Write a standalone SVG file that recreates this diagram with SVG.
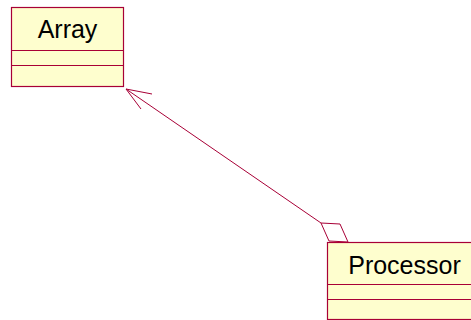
<svg xmlns="http://www.w3.org/2000/svg" width="471" height="320" viewBox="0 0 471 320">
<style>
.box{fill:#FEFECE;stroke:#A80036;stroke-width:1.2}
.sep{stroke:#A80036;stroke-width:1}
.lbl{font-family:"Liberation Sans",Arial,sans-serif;font-size:25px;fill:#000;text-anchor:middle}
.conn{fill:none;stroke:#A80036;stroke-width:1}
</style>
<rect width="471" height="320" fill="#fff"/>
<g id="Array">
<rect class="box" x="11.5" y="7.5" width="112" height="79"/>
<line class="sep" x1="11.5" y1="50.5" x2="123.5" y2="50.5"/>
<line class="sep" x1="11.5" y1="65.5" x2="123.5" y2="65.5"/>
<text class="lbl" x="67.5" y="38">Array</text>
</g>
<g id="Processor">
<rect class="box" x="327.5" y="242.5" width="155" height="77"/>
<line class="sep" x1="327.5" y1="284.5" x2="482" y2="284.5"/>
<line class="sep" x1="327.5" y1="299.5" x2="482" y2="299.5"/>
<text class="lbl" x="404.5" y="274">Processor</text>
</g>
<g id="connectors">
<line class="conn" x1="126" y1="89" x2="321" y2="223"/>
<polyline class="conn" points="152,94 126,89 141,109"/>
<polygon class="conn" fill="#fff" points="321,223 340,224 348,242 329,241"/>
</g>
</svg>
